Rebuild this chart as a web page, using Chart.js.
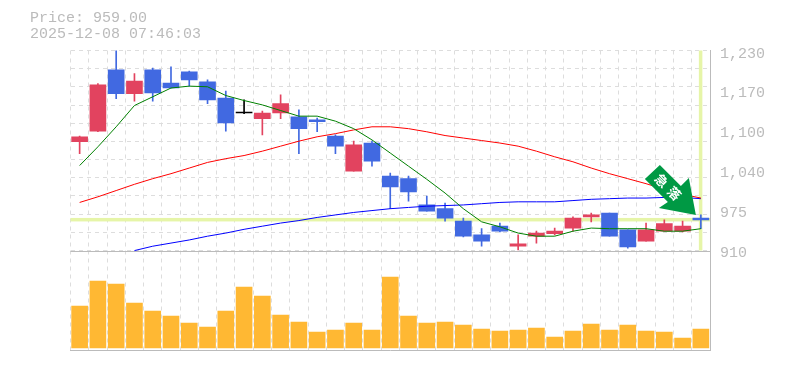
<!DOCTYPE html>
<html>
<head>
<meta charset="utf-8">
<script src="https://cdn.jsdelivr.net/npm/chart.js@4/dist/chart.umd.min.js"></script>
<style>
  html, body { margin: 0; padding: 0; background: #fff; }
  #wrap { position: relative; width: 785px; height: 370px; overflow: hidden; }
  #stockChart { position: absolute; left: 0; top: 0; }
  .info { position: absolute; left: 30px; font: 15px "Liberation Mono", monospace; color: #bbb; line-height: 15px; white-space: pre; }
</style>
</head>
<body>
<div id="wrap">
  <canvas id="stockChart" width="785" height="370"></canvas>
  <div class="info" style="top:11px">Price: 959.00</div>
  <div class="info" style="top:27px">2025-12-08 07:46:03</div>
</div>
<script>
const dates = ['10/17','10/20','10/21','10/22','10/23','10/24','10/27','10/28','10/29','10/30','10/31','11/4','11/5','11/6','11/7','11/10','11/11','11/12','11/13','11/14','11/17','11/18','11/19','11/20','11/21','11/25','11/26','11/27','11/28','12/1','12/2','12/3','12/4','12/5','12/8'];
const shownDates = ['10/23','10/30','11/7','11/14','11/21','12/1','12/8'];

const opens  = [1084,1101,1199,1161,1199,1178,1196,1180,1154,1130,1121,1130,1124,1119,1093,1037,1082,1029,1025,983,977,957,935,949,917,933,937,946,964,970,943,925,941,941,962];
const closes = [1092,1175,1161,1181,1162,1170,1183,1151,1114,1130,1130,1145,1105,1116,1077,1079,1053,1012,1004,973,962,933,925,941,921,938,941,962,967,933,916,943,953,949,959];
const highs  = [1093,1177,1237,1193,1202,1204,1197,1183,1165,1151,1133,1159,1135,1122,1095,1085,1085,1034,1029,997,986,962,945,954,935,941,946,964,970,970,943,954,959,957,967];
const lows   = [1065,1100,1153,1149,1149,1170,1173,1145,1101,1129,1095,1121,1065,1100,1065,1037,1045,977,989,973,957,932,917,940,911,922,935,941,956,933,914,925,941,940,945];

const ma5  = [1046,1076,1108,1142,1156,1170,1173,1172,1158,1150,1143,1134,1125,1125,1117,1105,1087,1066,1045,1024,1002,977,956,948,938,933,933,941,946,945,945,945,941,941,945];
const ma25 = [987,996,1006,1016,1025,1033,1042,1051,1057,1062,1069,1077,1085,1092,1097,1103,1108,1108,1105,1100,1094,1090,1086,1082,1077,1069,1060,1052,1042,1033,1025,1017,1008,1000,994];
const ma75 = [null,null,null,910,917,922,927,933,938,944,949,954,958,963,967,971,974,977,979,981,982,983,985,987,988,988,988,990,992,993,994,994,995,995,993];

const volumes = [42,67,64,45,37,32,25,21,37,61,52,33,26,16,18,25,18,71,32,25,26,23,19,17,18,20,11,17,24,18,23,17,16,10,19];

const priceGrid = [910,939.1,968.2,997.3,1026.4,1055.5,1084.5,1113.6,1142.7,1171.8,1200.9,1230];
const priceTicks = [910,973.6,1037.2,1100.8,1164.4,1228];
const priceLabels = ['910','975','1,040','1,100','1,170','1,230'];
const lastPrice = 959;
const arrowText = '急落';

const upColor = '#e2435f';
const downColor = '#4169e1';
const candleColors = closes.map((c, i) => c > opens[i] ? upColor : c < opens[i] ? downColor : '#000');

// highlight lines, baseline between the panels and the arrow
const overlay = {
  id: 'overlay',
  beforeDatasetsDraw(chart) {
    const { ctx, chartArea, scales } = chart;
    const px = scales.x.getPixelForValue(dates.length - 1);
    const py = scales.y.getPixelForValue(lastPrice);
    const base = scales.y.getPixelForValue(910);
    ctx.save();
    ctx.fillStyle = '#bbb';
    ctx.fillRect(chartArea.left, Math.round(base), chartArea.width, 1);
    ctx.fillStyle = '#e6f5a8';
    ctx.fillRect(chartArea.left, py - 2, chartArea.width, 3.5);
    ctx.fillRect(px - 2, chartArea.top, 3.5, base - chartArea.top);
    ctx.restore();
  },
  afterDatasetsDraw(chart) {
    const { ctx, scales } = chart;
    const px = scales.x.getPixelForValue(dates.length - 1);
    const py = scales.y.getPixelForValue(lastPrice);
    const shape = [[-41,-55],[-56,-41],[-33,-18],[-42,-12],[-5,-5],[-12,-42],[-20,-34]];
    ctx.save();
    ctx.translate(px, py);
    ctx.fillStyle = '#009944';
    ctx.beginPath();
    shape.forEach(([x, y], i) => i ? ctx.lineTo(x, y) : ctx.moveTo(x, y));
    ctx.closePath();
    ctx.fill();
    ctx.translate(-33, -33);
    ctx.rotate(Math.PI / 4);
    ctx.fillStyle = '#fff';
    ctx.font = 'bold 13px "Noto Sans CJK JP"';
    ctx.textAlign = 'center';
    ctx.textBaseline = 'middle';
    ctx.fillText(arrowText[0], -9, 0);
    ctx.fillText(arrowText[1], 9, 0);
    ctx.restore();
  }
};

new Chart(document.getElementById('stockChart'), {
  type: 'bar',
  plugins: [overlay],
  data: {
    labels: dates,
    datasets: [
      { type: 'line', data: ma5, yAxisID: 'y', borderColor: '#008000', borderWidth: 1, pointRadius: 0, order: 1 },
      { type: 'line', data: ma25, yAxisID: 'y', borderColor: '#ff0000', borderWidth: 1, pointRadius: 0, order: 1 },
      { type: 'line', data: ma75, yAxisID: 'y', borderColor: '#0000ff', borderWidth: 1, pointRadius: 0, order: 1 },
      { data: opens.map((o, i) => [o, closes[i]]), yAxisID: 'y', backgroundColor: candleColors, barThickness: 16, minBarLength: 1, grouped: false, order: 2 },
      { data: lows.map((l, i) => [l, highs[i]]), yAxisID: 'y', backgroundColor: candleColors, barThickness: 1, grouped: false, order: 3 },
      { data: volumes, yAxisID: 'yVol', backgroundColor: '#ffb833', barThickness: 16, grouped: false, order: 4 }
    ]
  },
  options: {
    responsive: false,
    animation: false,
    layout: { padding: { left: 70.5, top: 50.5, bottom: 20, right: 0 } },
    plugins: { legend: { display: false }, tooltip: { enabled: false } },
    scales: {
      x: {
        afterFit(s) { s.height = 0; },
        grid: { color: '#ddd', drawTicks: false, offset: true },
        border: { color: '#bbb', dash: [4, 4] },
        ticks: {
          autoSkip: false,
          maxRotation: 0,
          padding: -96,
          labelOffset: 1,
          color: '#bbb',
          font: { family: 'DejaVu Sans', size: 10 },
          callback(v) {
            const d = dates[v];
            return shownDates.includes(d) ? d : '';
          }
        }
      },
      y: {
        position: 'left',
        min: 751,
        max: 1230,
        afterFit(s) { s.width = 0; },
        afterBuildTicks(s) { s.ticks = priceGrid.map(value => ({ value })); },
        grid: { color: '#ddd', drawTicks: false },
        border: { display: false, dash: [4, 4] },
        ticks: { display: false }
      },
      yLabels: {
        position: 'right',
        min: 751,
        max: 1230,
        afterFit(s) { s.width = 75; },
        afterBuildTicks(s) { s.ticks = priceTicks.map(value => ({ value })); },
        grid: { display: false, drawTicks: false },
        border: { color: '#bbb' },
        ticks: {
          padding: 10,
          labelOffset: 2,
          color: '#bbb',
          font: { family: 'Liberation Mono', size: 15 },
          callback(v) { return priceLabels[priceTicks.indexOf(v)]; }
        }
      },
      yVol: { display: false, min: -2, max: 297.4 }
    }
  }
});
</script>
</body>
</html>
